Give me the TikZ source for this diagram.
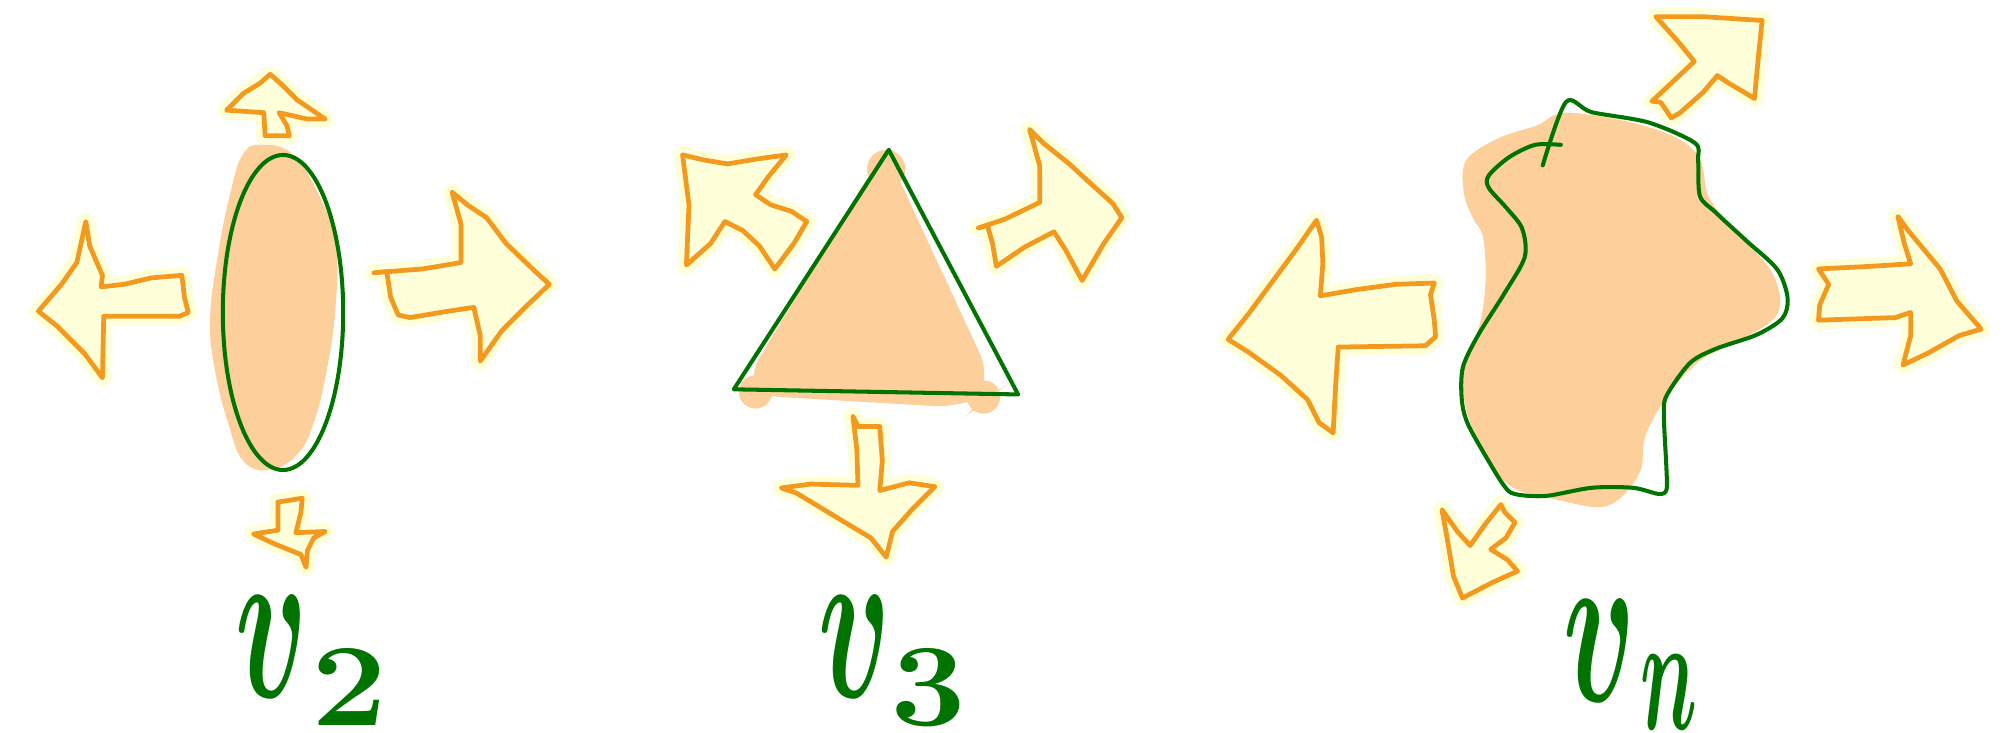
\documentclass[tikz,border=0pt]{standalone}
\usepackage{amsmath}
\usepackage{xcolor}
\usepackage{tikz}
\usetikzlibrary{calc}

\definecolor{penorange}{RGB}{243,154,30}
\definecolor{glowyellow}{RGB}{255,255,218}
\definecolor{blobfill}{RGB}{253,208,155}
\definecolor{pengreen}{RGB}{0,115,0}

% hand-lettered index: stretched and lowered
\newcommand{\handsub}[4]{\kern#4\raisebox{-3pt}{\scalebox{#1}[#2]{$\scriptstyle #3$}}}

\begin{document}
\begin{tikzpicture}[
    x=0.012806cm, y=-0.012806cm,
    shapefill/.style = {fill=blobfill},
    outline/.style   = {draw=pengreen, line width=1.15pt, line join=round, line cap=round},
    flowarrow/.style = {draw=penorange, line width=1.35pt, line join=round, line cap=round,
                        fill=glowyellow,
                        preaction={draw=glowyellow, line width=5pt, line join=round}},
    shapelabel/.style = {text=pengreen, font=\fontsize{24.88}{30}\selectfont\boldmath,
                         xscale=1.37, yscale=2.6, inner sep=0pt, anchor=base west},
]
\useasboundingbox (0,0) rectangle (1568,572);

% ---------------- v2: ellipse ----------------
\fill[shapefill] plot[smooth cycle, tension=0.7] coordinates {
    (205,113) (228,120) (248,150) (262,190) (262,240) (255,290) (245,330)
    (232,355) (210,367) (190,360) (178,330) (168,290) (164,250) (170,200)
    (180,150) (190,120)};
\draw[outline] (221,244) ellipse [x radius=47, y radius=123];

\draw[flowarrow] (30,243) -- (48,222) -- (60,205) -- (67,173) -- (70,192) -- (80,215)
    -- (79,224) -- (97,222) -- (118,217) -- (142,215) -- (144,232) -- (147,244)
    -- (140,247) -- (81,247) -- (80,295) -- (66,276) -- (45,255) -- cycle;
\draw[flowarrow] (292,213) -- (330,210) -- (360,205) -- (360,175) -- (353,150) -- (365,160)
    -- (380,170) -- (395,190) -- (418,212) -- (429,222) -- (410,240) -- (392,258)
    -- (375,282) -- (375,262) -- (370,240) -- (350,243) -- (320,248) -- (311,246)
    -- (305,232) -- (302,212) -- cycle;
\draw[flowarrow] (211,58) -- (220,66) -- (232,78) -- (254,93) -- (240,93) -- (218,88)
    -- (224,98) -- (226,106) -- (207,106) -- (206,88) -- (177,86) -- (190,73)
    -- (203,65) -- cycle;
\draw[flowarrow] (217,392) -- (217,414) -- (198,417) -- (215,425) -- (235,433) -- (239,443)
    -- (240,430) -- (245,420) -- (254,415) -- (231,416) -- (235,400) -- (236,389)
    -- (224,391) -- cycle;

\node[shapelabel] (vtwo) at (183,545) {$v$\handsub{1.35}{0.62}{2}{0.7pt}};

% ---------------- v3: triangle ----------------
\fill[shapefill, rounded corners=12pt] (691,116) -- (576,308) -- (762,319) -- (779,306) -- cycle;
\fill[shapefill] (692,132) circle [radius=15] (590,306) circle [radius=13]
    (768,310) circle [radius=13];
\draw[outline] (694,117) -- (795,308) -- (573,304) -- cycle;

\draw[flowarrow] (533,121) -- (550,125) -- (568,128) -- (592,124) -- (614,121) -- (600,138)
    -- (590,152) -- (602,160) -- (618,165) -- (630,173) -- (620,190) -- (605,210)
    -- (593,192) -- (580,180) -- (566,173) -- (555,190) -- (536,207) -- (538,160) -- cycle;
\draw[flowarrow] (764,178) -- (785,171) -- (812,158) -- (812,130) -- (804,101) -- (815,112)
    -- (835,128) -- (848,140) -- (869,159) -- (876,170) -- (862,190) -- (845,219)
    -- (832,195) -- (823,181) -- (800,193) -- (778,208) -- (775,190) -- (771,176) -- cycle;
\draw[flowarrow] (666,325) -- (670,333) -- (687,333) -- (689,360) -- (687,383) -- (710,377)
    -- (730,380) -- (712,398) -- (697,415) -- (692,435) -- (680,420) -- (655,405)
    -- (622,385) -- (610,381) -- (633,378) -- (670,379) -- (669,350) -- cycle;

\node[shapelabel] (vthree) at (638,545) {$v$\handsub{1.35}{0.62}{3}{0pt}};

% ---------------- vn: free blob ----------------
\fill[shapefill] plot[smooth cycle, tension=0.6] coordinates {
    (1225,88) (1290,100) (1325,120) (1335,155) (1360,185) (1385,215) (1388,245)
    (1360,265) (1330,280) (1305,305) (1285,340) (1280,370) (1255,395) (1215,390)
    (1180,380) (1160,355) (1145,320) (1143,285) (1155,255) (1160,220) (1158,185)
    (1150,170) (1143,150) (1145,125) (1170,108) (1200,98)};
\draw[outline] plot[smooth, tension=0.5] coordinates {
    (1204.7,129.1) (1222.8,79.7) (1242.9,87.6) (1287.2,95.6) (1323.4,111.6)
    (1326,125) (1327.4,153) (1339.5,165.7) (1363.7,188) (1387.8,210.4) (1395.9,232.7)
    (1391.8,248.6) (1371.7,261.4) (1339.5,272.5) (1319.4,283.7) (1301.3,309.2)
    (1299.3,325.1) (1301.3,366.5) (1301.3,382.5) (1295.2,385.7) (1275.1,380.9)
    (1242.9,380.9) (1206.7,387.3) (1182.6,385.7) (1174.5,379.3) (1162.5,360.2)
    (1146.4,331.5) (1141.5,312.4) (1142.3,286.9) (1154.4,261.4) (1174.5,229.5)
    (1190.6,200.8) (1188.6,178.5) (1176.5,162.5) (1162.5,146.6) (1162.5,137.1)
    (1178.5,122.7) (1198.7,113.1) (1218.8,113.1)};

\draw[flowarrow] (1293,13) -- (1330,13) -- (1376,16) -- (1373,45) -- (1370,77) -- (1362,72)
    -- (1350,65) -- (1341,59) -- (1330,72) -- (1312,88) -- (1305,92) -- (1297,80)
    -- (1290,79) -- (1305,65) -- (1323,48) -- (1310,32) -- cycle;
\draw[flowarrow] (1420,210) -- (1460,208) -- (1492,206) -- (1487,190) -- (1482,169) -- (1490,180)
    -- (1500,192) -- (1515,210) -- (1528,235) -- (1547,257) -- (1530,262) -- (1505,276)
    -- (1486,285) -- (1492,262) -- (1492,244) -- (1480,248) -- (1420,250) -- (1421,238)
    -- (1428,222) -- cycle;
\draw[flowarrow] (959,265) -- (975,245) -- (995,218) -- (1012,195) -- (1028,172) -- (1032,185)
    -- (1033,205) -- (1031,231) -- (1060,226) -- (1090,222) -- (1120,221) -- (1117,230)
    -- (1120,250) -- (1121,263) -- (1113,270) -- (1045,271) -- (1043,300) -- (1041,338)
    -- (1030,330) -- (1021,312) -- (1000,293) -- (975,275) -- cycle;
\draw[flowarrow] (1126,398) -- (1138,415) -- (1148,426) -- (1160,409) -- (1172,394) -- (1175,400)
    -- (1183,408) -- (1176,420) -- (1164,429) -- (1177,437) -- (1185,446) -- (1165,455)
    -- (1142,467) -- (1135,450) -- (1130,420) -- cycle;

\node[shapelabel] (vn) at (1220,548) {$v$\handsub{0.8}{0.88}{n}{1.1pt}};

\end{tikzpicture}
\end{document}
